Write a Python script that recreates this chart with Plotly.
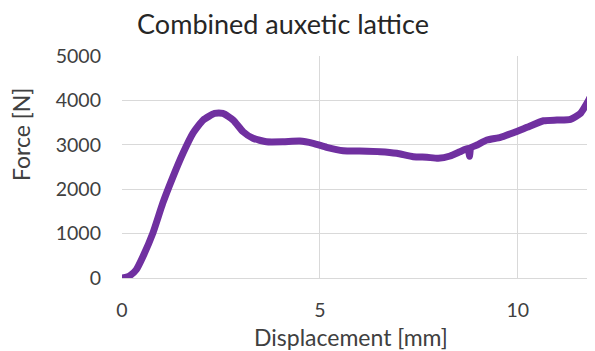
import plotly.graph_objects as go

# Data
displacement_mm = [0.0, 0.12, 0.23, 0.36, 0.53, 0.78, 1.03, 1.29, 1.54, 1.79, 2.05, 2.34, 2.55,
                   2.81, 3.06, 3.31, 3.65, 4.07, 4.49, 4.83, 5.17, 5.59, 6.0, 6.52, 6.94, 7.36,
                   7.70, 7.99, 8.29, 8.54, 8.74, 8.78, 8.81, 8.97, 9.22, 9.56, 9.89, 10.23,
                   10.65, 10.99, 11.33, 11.58, 11.79, 11.95]
force_N = [0, 20, 74, 186, 485, 1011, 1685, 2283, 2809, 3258, 3557, 3707, 3707,
           3557, 3294, 3146, 3069, 3069, 3085, 3033, 2944, 2867, 2860, 2845, 2809, 2732,
           2719, 2696, 2748, 2845, 2921, 2740, 2930, 2995, 3108, 3168, 3272, 3393,
           3541, 3557, 3573, 3707, 4006, 4290]

x_ticks = [0, 5, 10]
y_ticks = [0, 1000, 2000, 3000, 4000, 5000]

FONT = "Lato"
TXT = "#404040"

# the page has an 8px body margin; the figure is sized to fit the window
W, H = 587, 343
OFF = 8
PL, PT, PB = 122 - OFF, 56 - OFF, 278 - OFF   # plot-area edges in figure pixels
PW, PH = W - PL, PB - PT

fig = go.Figure()
fig.add_trace(go.Scatter(
    x=displacement_mm, y=force_N, mode="lines",
    line=dict(color="#7030A0", width=7, shape="spline", smoothing=0.5),
    showlegend=False, hoverinfo="skip"))

fig.update_layout(
    width=W, height=H,
    margin=dict(l=PL, r=0, t=PT, b=H - PB, autoexpand=False),
    paper_bgcolor="white", plot_bgcolor="white",
    font=dict(family=FONT, color=TXT),
    title=dict(text="Combined auxetic lattice", x=(283 - OFF) / W, xanchor="center",
               y=1 - (25 - OFF) / H, yanchor="middle",
               font=dict(family=FONT, size=27, color="#262626")),
    xaxis=dict(range=[0, 11.95], tickvals=x_ticks, ticktext=[str(v) for v in x_ticks],
               showgrid=True, gridcolor="#d9d9d9", gridwidth=1,
               zeroline=False, showline=True, linecolor="#d9d9d9", linewidth=1,
               ticks="", ticklabelstandoff=15, automargin=False,
               tickfont=dict(family=FONT, size=19.5, color=TXT)),
    yaxis=dict(range=[0, 5000], tickvals=y_ticks, ticktext=[str(v) for v in y_ticks],
               showgrid=True, gridcolor="#d9d9d9", gridwidth=1,
               zeroline=False, showline=False, automargin=False,
               ticks="", ticklabelstandoff=20,
               tickfont=dict(family=FONT, size=19.5, color=TXT)),
    annotations=[
        dict(text="Force [N]", xref="paper", yref="paper", x=(21 - 122) / PW,
             y=(278 - 135) / PH, textangle=-90, showarrow=False,
             xanchor="center", yanchor="middle",
             font=dict(family=FONT, size=23, color=TXT)),
        dict(text="Displacement [mm]", xref="paper", yref="paper", x=(351 - 122) / PW,
             y=(278 - 337) / PH, showarrow=False,
             xanchor="center", yanchor="middle",
             font=dict(family=FONT, size=23, color=TXT)),
    ],
)

fig.write_html("out.html")
